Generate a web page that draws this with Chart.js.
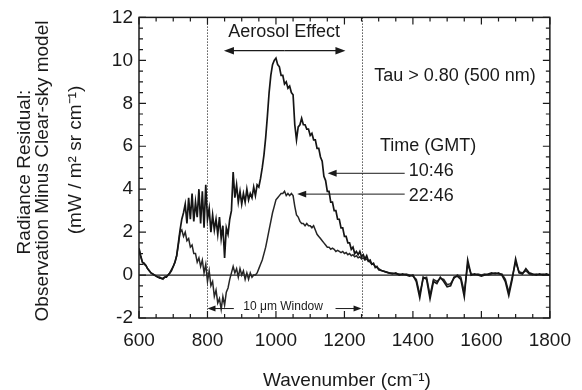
<!DOCTYPE html>
<html>
<head>
<meta charset="utf-8">
<script src="https://cdn.jsdelivr.net/npm/chart.js@4.4.1/dist/chart.umd.min.js"></script>
<style>
  html, body { margin: 0; padding: 0; background: #fff; }
  #wrap { width: 582px; height: 390px; position: relative; }
</style>
</head>
<body>
<div id="wrap"><canvas id="spectrum"></canvas></div>
<script>
// wavenumber grid (cm-1): 5 cm-1 steps to 1300, 10 cm-1 steps after
const wavenumber = [
  600, 605, 610, 615, 620, 625, 630, 635, 640, 645, 650, 655, 660, 665, 670, 675, 680, 685, 690, 695,
  700, 705, 710, 715, 720, 725, 730, 735, 740, 745, 750, 755, 760, 765, 770, 775, 780, 785, 790, 795,
  800, 805, 810, 815, 820, 825, 830, 835, 840, 845, 850, 855, 860, 865, 870, 875, 880, 885, 890, 895,
  900, 905, 910, 915, 920, 925, 930, 935, 940, 945, 950, 955, 960, 965, 970, 975, 980, 985, 990, 995,
  1000, 1005, 1010, 1015, 1020, 1025, 1030, 1035, 1040, 1045, 1050, 1055, 1060, 1065, 1070, 1075, 1080, 1085, 1090, 1095,
  1100, 1105, 1110, 1115, 1120, 1125, 1130, 1135, 1140, 1145, 1150, 1155, 1160, 1165, 1170, 1175, 1180, 1185, 1190, 1195,
  1200, 1205, 1210, 1215, 1220, 1225, 1230, 1235, 1240, 1245, 1250, 1255, 1260, 1265, 1270, 1275, 1280, 1285, 1290, 1295, 1300,
  1310, 1320, 1330, 1340, 1350, 1360, 1370, 1380, 1390, 1400,
  1410, 1420, 1430, 1440, 1450, 1460, 1470, 1480, 1490, 1500,
  1510, 1520, 1530, 1540, 1550, 1560, 1570, 1580, 1590, 1600,
  1610, 1620, 1630, 1640, 1650, 1660, 1670, 1680, 1690, 1700,
  1710, 1720, 1730, 1740, 1750, 1760, 1770, 1780, 1790, 1800
];

// radiance residual, 10:46 GMT
const residual1046 = [
  1.25, 0.9, 0.6, 0.55, 0.45, 0.3, 0.2, 0.1, 0.05, 0.0, -0.05, -0.1, -0.1, -0.15, -0.15, -0.1, -0.1, 0.0, 0.1, 0.25,
  0.4, 0.6, 0.9, 1.5, 2.1, 2.6, 2.9, 3.3, 2.4, 3.6, 2.6, 3.8, 2.5, 3.4, 2.7, 4.0, 2.4, 3.9, 2.2, 4.2,
  2.6, 3.1, 2.0, 2.8, 2.1, 2.6, 1.9, 2.7, 1.7, 2.3, 0.8, 2.2, 1.9, 2.6, 3.0, 4.8, 3.6, 4.2, 3.4, 3.9,
  3.3, 3.8, 3.4, 4.0, 3.5, 3.8, 3.6, 4.1, 3.7, 4.2, 4.1, 4.5, 5.0, 5.6, 6.4, 7.4, 8.5, 9.3, 9.8, 10.0,
  10.1, 9.8, 9.7, 9.3, 9.3, 8.9, 9.0, 8.7, 8.8, 8.5, 8.4, 7.0, 6.3, 6.9, 7.0, 7.3, 7.0, 7.0, 6.8, 6.8,
  6.5, 6.6, 6.3, 6.3, 5.9, 5.9, 5.5, 5.3, 4.6, 4.4, 3.9, 3.9, 3.4, 3.4, 3.0, 3.0, 2.6, 2.6, 2.2, 2.2,
  1.8, 1.8, 1.5, 1.5, 1.2, 1.3, 1.0, 1.1, 0.95, 1.1, 0.85, 0.95, 0.75, 0.9, 0.65, 0.7, 0.5, 0.55, 0.35, 0.4, 0.25,
  0.2, 0.15, 0.1, 0.05, 0.1, 0.0, 0.05, 0.0, -0.05, 0.0,
  -0.3, -1.05, -0.1, -0.2, -1.1, -0.3, -0.4, -0.1, -0.3, -0.55,
  -0.5, -0.1, -0.05, -0.2, -1.0, 0.7, 0.0, 0.05, 0.0, -0.05,
  0.0, 0.05, 0.1, 0.05, 0.1, 0.0, -0.3, -0.95, -0.2, 0.75,
  0.1, 0.05, 0.3, 0.1, 0.05, 0.0, 0.05, 0.0, 0.05, 0.0
];

// radiance residual, 22:46 GMT
const residual2246 = [
  1.2, 0.85, 0.6, 0.5, 0.45, 0.3, 0.2, 0.1, 0.05, 0.0, -0.05, -0.1, -0.15, -0.15, -0.2, -0.1, -0.05, 0.0, 0.1, 0.2,
  0.4, 0.6, 0.9, 1.4, 2.0, 2.1, 1.8, 2.0, 1.6, 1.7, 1.3, 1.4, 1.0, 1.0, 0.6, 0.8, 0.4, 0.7, 0.1, 0.5,
  -0.3, 0.2, -0.5, -0.3, -1.0, -0.7, -1.3, -1.1, -1.6, -1.0, -1.4, -0.8, -0.6, -0.2, 0.1, 0.4, 0.1, 0.3, -0.1, 0.3,
  0.0, 0.2, -0.2, 0.1, -0.2, 0.1, -0.1, 0.0, 0.0, 0.1, 0.3, 0.5, 0.7, 1.0, 1.3, 1.7, 2.1, 2.5, 2.9, 3.2,
  3.5, 3.6, 3.7, 3.8, 3.8, 3.9, 3.7, 3.8, 3.7, 3.8, 3.7, 3.2, 2.8, 2.7, 2.5, 2.4, 2.4, 2.3, 2.4, 2.3,
  2.3, 2.2, 2.3, 2.1, 1.9, 1.8, 1.7, 1.6, 1.5, 1.4, 1.3, 1.3, 1.2, 1.25, 1.2, 1.1, 1.15, 1.1, 1.05, 1.1,
  1.0, 1.05, 0.95, 1.0, 0.9, 0.95, 0.85, 0.9, 0.8, 0.85, 0.75, 0.8, 0.7, 0.75, 0.65, 0.6, 0.5, 0.5, 0.4, 0.35, 0.3,
  0.2, 0.15, 0.1, 0.1, 0.05, 0.05, 0.0, 0.05, 0.0, -0.05,
  -0.2, -0.9, -0.15, -0.1, -0.95, -0.2, -0.3, -0.15, -0.2, -0.45,
  -0.4, -0.15, 0.0, -0.1, -0.8, 0.5, 0.05, 0.0, 0.05, 0.0,
  0.05, 0.0, 0.05, 0.1, 0.05, 0.05, -0.2, -0.8, -0.1, 0.6,
  0.15, 0.1, 0.2, 0.05, 0.0, 0.05, 0.0, 0.05, 0.0, 0.0
];

const xTicks = [600, 800, 1000, 1200, 1400, 1600, 1800];
const yTicks = [-2, 0, 2, 4, 6, 8, 10, 12];

const FONT = '"Liberation Sans", Arial, Helvetica, sans-serif';
const INK = '#1a1a1a';

function pts(ys) {
  return wavenumber.map((w, i) => ({ x: w, y: ys[i] }));
}

function arrow(ctx, x1, y1, x2, y2, head) {
  // line from (x1,y1) with a filled head at (x2,y2)
  const ang = Math.atan2(y2 - y1, x2 - x1);
  ctx.beginPath();
  ctx.moveTo(x1, y1);
  ctx.lineTo(x2 - Math.cos(ang) * head * 0.8, y2 - Math.sin(ang) * head * 0.8);
  ctx.stroke();
  ctx.beginPath();
  ctx.moveTo(x2, y2);
  ctx.lineTo(x2 - Math.cos(ang) * head + Math.sin(ang) * head * 0.38,
             y2 - Math.sin(ang) * head - Math.cos(ang) * head * 0.38);
  ctx.lineTo(x2 - Math.cos(ang) * head - Math.sin(ang) * head * 0.38,
             y2 - Math.sin(ang) * head + Math.cos(ang) * head * 0.38);
  ctx.closePath();
  ctx.fill();
}

const decor = {
  id: 'decor',
  beforeDatasetsDraw(chart) {
    const { ctx, chartArea: a, scales: { x, y } } = chart;
    ctx.save();
    // 10 um window edges
    ctx.strokeStyle = '#555';
    ctx.lineWidth = 1;
    ctx.setLineDash([1.5, 1.5]);
    [800, 1250].forEach(v => {
      const px = Math.round(x.getPixelForValue(v)) + 0.5;
      ctx.beginPath();
      ctx.moveTo(px, a.top);
      ctx.lineTo(px, a.bottom);
      ctx.stroke();
    });
    ctx.setLineDash([]);
    // zero line
    ctx.strokeStyle = INK;
    ctx.lineWidth = 1.2;
    const zy = y.getPixelForValue(0);
    ctx.beginPath();
    ctx.moveTo(a.left, zy);
    ctx.lineTo(a.right, zy);
    ctx.stroke();
    ctx.restore();
  },
  afterDraw(chart) {
    const { ctx, chartArea: a, scales: { x, y } } = chart;
    ctx.save();
    ctx.strokeStyle = INK;
    ctx.fillStyle = INK;

    // frame
    ctx.lineWidth = 1.5;
    ctx.strokeRect(a.left, a.top, a.right - a.left, a.bottom - a.top);

    // inward ticks on all sides
    ctx.lineWidth = 1.2;
    ctx.beginPath();
    for (let v = 600; v <= 1800; v += 50) {
      const px = x.getPixelForValue(v);
      const len = v % 200 === 0 ? 7 : 4;
      ctx.moveTo(px, a.bottom); ctx.lineTo(px, a.bottom - len);
      ctx.moveTo(px, a.top); ctx.lineTo(px, a.top + len);
    }
    for (let v = -2; v <= 12; v += 0.5) {
      const py = y.getPixelForValue(v);
      const len = v % 2 === 0 ? 7 : 4;
      ctx.moveTo(a.left, py); ctx.lineTo(a.left + len, py);
      ctx.moveTo(a.right, py); ctx.lineTo(a.right - len, py);
    }
    ctx.stroke();

    // annotations
    ctx.textBaseline = 'middle';
    ctx.font = '18px ' + FONT;
    ctx.textAlign = 'center';
    ctx.fillText('Aerosol Effect', x.getPixelForValue(1024), y.getPixelForValue(11.32));
    ctx.lineWidth = 1.2;
    const ay = y.getPixelForValue(10.45);
    const ax1 = x.getPixelForValue(848), ax2 = x.getPixelForValue(1203);
    const mid = (ax1 + ax2) / 2;
    arrow(ctx, mid, ay, ax1, ay, 10);
    arrow(ctx, mid, ay, ax2, ay, 10);

    ctx.textAlign = 'left';
    ctx.fillText('Tau > 0.80 (500 nm)', x.getPixelForValue(1287), y.getPixelForValue(9.29));
    ctx.fillText('Time (GMT)', x.getPixelForValue(1304), y.getPixelForValue(6.0));
    ctx.fillText('10:46', x.getPixelForValue(1388), y.getPixelForValue(4.85));
    ctx.fillText('22:46', x.getPixelForValue(1388), y.getPixelForValue(3.7));
    ctx.lineWidth = 1;
    arrow(ctx, x.getPixelForValue(1376), y.getPixelForValue(4.74), x.getPixelForValue(1151), y.getPixelForValue(4.74), 9);
    arrow(ctx, x.getPixelForValue(1376), y.getPixelForValue(3.77), x.getPixelForValue(1062), y.getPixelForValue(3.77), 9);

    // 10 um window label
    ctx.font = '12px ' + FONT;
    ctx.textAlign = 'center';
    ctx.fillText('10 μm Window', x.getPixelForValue(1021), y.getPixelForValue(-1.47));
    const wy = y.getPixelForValue(-1.56);
    arrow(ctx, x.getPixelForValue(877), wy, x.getPixelForValue(800), wy, 8);
    arrow(ctx, x.getPixelForValue(1174), wy, x.getPixelForValue(1250), wy, 8);

    // axis titles
    ctx.font = '19px ' + FONT;
    ctx.textAlign = 'center';
    ctx.fillText('Wavenumber (cm⁻¹)', 347, 381);
    ctx.save();
    ctx.rotate(-Math.PI / 2);
    ctx.fillText('Radiance Residual:', -172, 25);
    ctx.fillText('Observation Minus Clear-sky model', -171, 43);
    ctx.fillText('(mW / m² sr cm⁻¹)', -160, 76);
    ctx.restore();

    ctx.restore();
  }
};

const ctx = document.getElementById('spectrum').getContext('2d');
const chart = new Chart(ctx, {
  type: 'line',
  data: {
    datasets: [
      {
        label: '10:46',
        data: pts(residual1046),
        borderColor: '#151515',
        borderWidth: 1.7,
        pointRadius: 0,
        tension: 0
      },
      {
        label: '22:46',
        data: pts(residual2246),
        borderColor: '#262626',
        borderWidth: 1.5,
        pointRadius: 0,
        tension: 0
      }
    ]
  },
  options: {
    responsive: true,
    maintainAspectRatio: false,
    animation: false,
    layout: { padding: { left: 0, top: 13, right: 27, bottom: 0 } },
    plugins: { legend: { display: false }, tooltip: { enabled: false } },
    scales: {
      x: {
        type: 'linear',
        min: 600,
        max: 1800,
        afterBuildTicks: s => { s.ticks = xTicks.map(v => ({ value: v })); },
        afterFit: s => { s.height = 72; },
        grid: { display: false, drawTicks: false },
        border: { display: false },
        ticks: {
          padding: 11,
          color: INK,
          font: { family: FONT, size: 19 },
          maxRotation: 0,
          callback: v => String(v)
        }
      },
      y: {
        min: -2,
        max: 12,
        afterBuildTicks: s => { s.ticks = yTicks.map(v => ({ value: v })); },
        afterFit: s => { s.width = 139; },
        grid: { display: false, drawTicks: false },
        border: { display: false },
        ticks: {
          padding: 6,
          color: INK,
          font: { family: FONT, size: 19 },
          callback: v => String(v)
        }
      }
    }
  },
  plugins: [decor]
});
</script>
</body>
</html>
